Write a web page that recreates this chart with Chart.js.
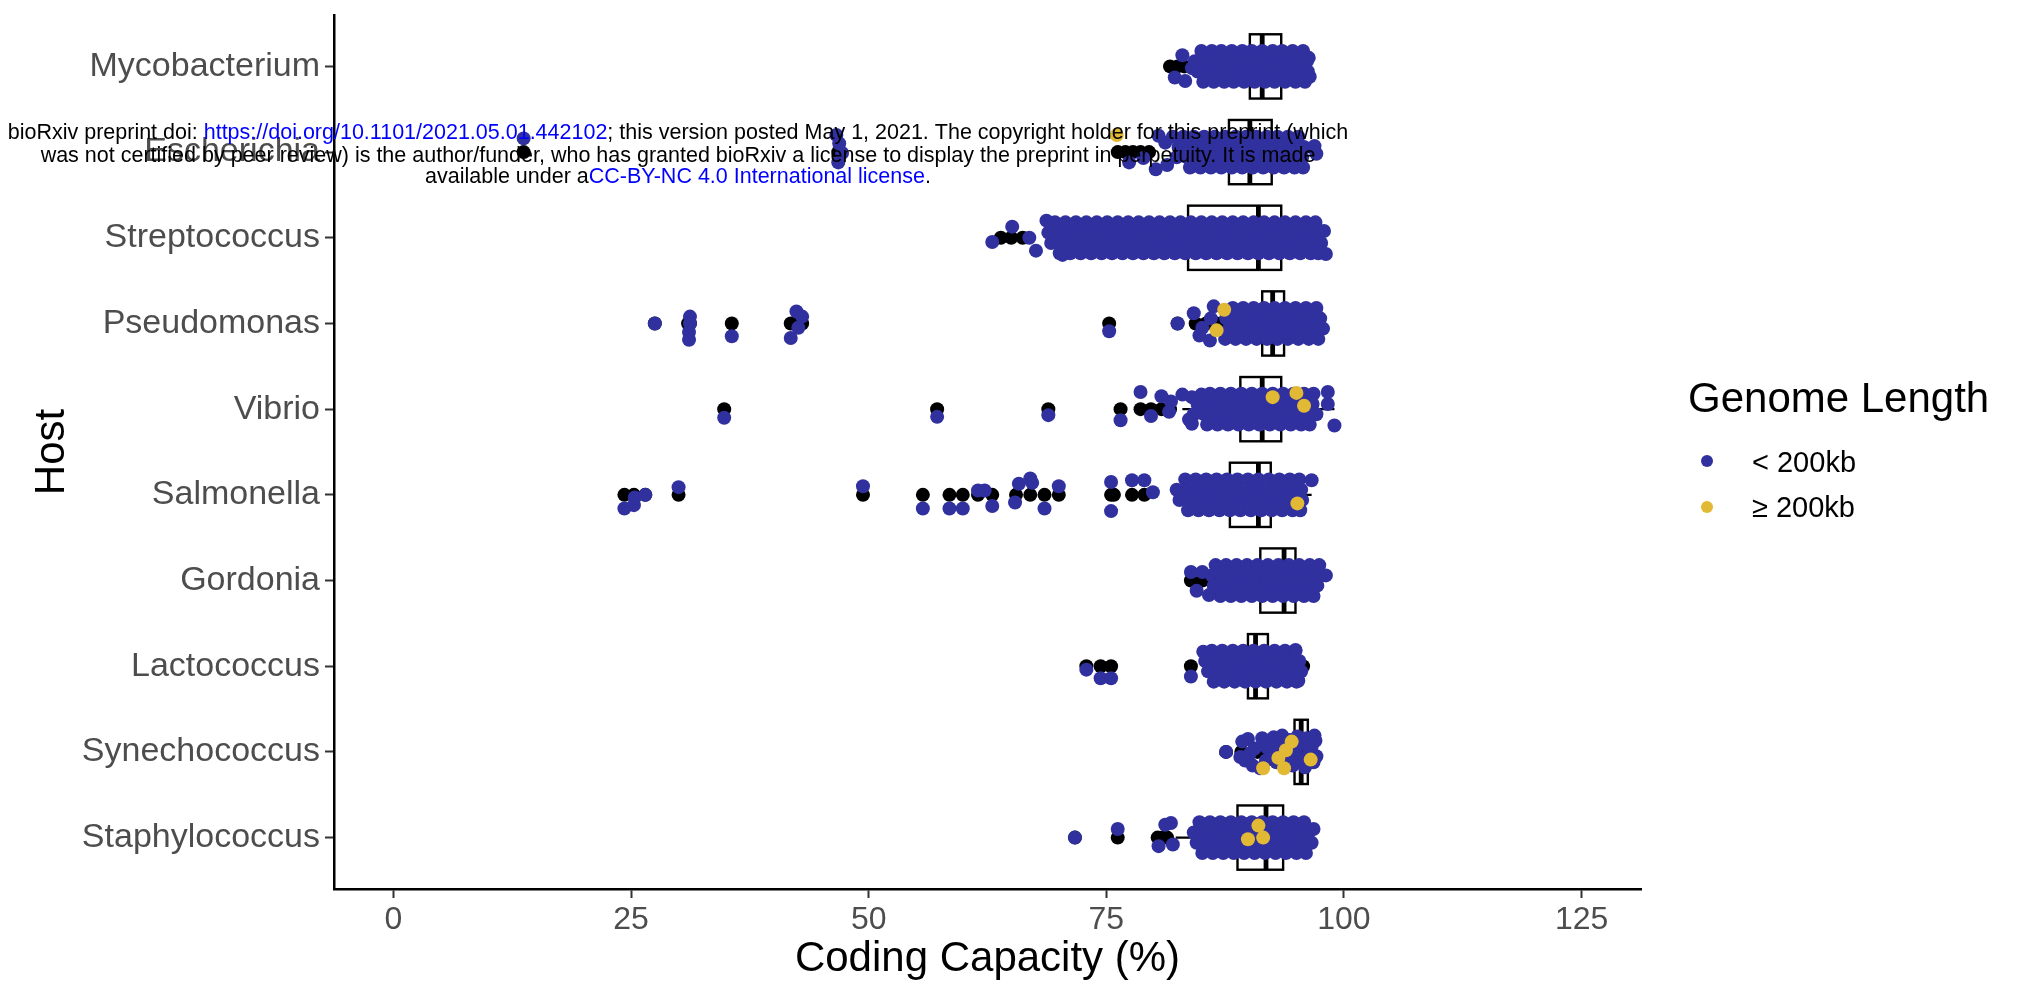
<!DOCTYPE html>
<html>
<head>
<meta charset="utf-8">
<script src="https://cdn.jsdelivr.net/npm/chart.js@4.4.1/dist/chart.umd.min.js"></script>
<style>
  body { margin: 0; background: #fff; }
  canvas { display: block; }
</style>
</head>
<body>
<canvas id="chart" width="2020" height="987"></canvas>
<script>
// Coding capacity per host, boxplot + jittered genomes

var hosts = ['Mycobacterium', 'Escherichia', 'Streptococcus', 'Pseudomonas', 'Vibrio',
             'Salmonella', 'Gordonia', 'Lactococcus', 'Synechococcus', 'Staphylococcus'];

// box stats (coding capacity %)
var whiskerLow  = [85.3, 82.0, 69.0, 88.0, 83.0, 83.5, 85.8, 86.8, 92.7, 82.3];
var boxQ1       = [90.1, 87.9, 83.6, 91.4, 89.1, 88.0, 91.2, 89.9, 94.8, 88.8];
var boxMedian   = [91.4, 90.1, 91.0, 92.5, 91.4, 91.0, 93.7, 90.7, 95.5, 91.8];
var boxQ3       = [93.4, 92.4, 93.4, 93.7, 93.4, 92.3, 94.9, 92.0, 96.2, 93.6];
var whiskerHigh = [96.6, 97.1, 97.9, 97.2, 99.0, 96.6, 98.1, 95.1, 97.2, 96.8];

// boxplot outliers (drawn at the host line)
var outliers = [
  [81.7, 82.5, 83.2, 84.1, 84.9],
  [13.7, 46.8, 76.2, 77.0, 77.8, 78.6, 79.5],
  [63.9, 65.0, 66.2],
  [27.5, 31.0, 31.2, 35.6, 41.8, 42.6, 43.0, 75.3, 82.5, 84.4, 85.5, 86.6, 87.3],
  [34.8, 57.2, 68.9, 76.5, 78.6, 79.7, 80.8, 81.7],
  [24.3, 25.3, 26.5, 30.0, 49.4, 55.7, 58.5, 59.9, 61.5, 63.0, 65.5, 67.0, 68.5, 70.0, 75.5, 75.8, 77.7, 79.0],
  [83.9, 85.1],
  [72.9, 74.4, 75.5, 83.9, 86.0, 95.7],
  [87.6, 89.2, 90.9, 91.5, 92.2],
  [71.7, 76.2, 80.4, 80.9, 81.4]
];

// jitter offsets of the dense rows (host units)
var jitterRows = [-0.18, -0.06, 0.06, 0.18];

// < 200kb genomes: dense part, one list of x per jitter row
var blueRows = [
  [[85.0, 86.1, 87.1, 88.2, 89.3, 90.3, 91.4, 92.5, 93.5, 94.6, 95.7],
   [84.3, 85.4, 86.5, 87.6, 88.7, 89.7, 90.8, 91.9, 93.0, 94.0, 95.1, 96.1],
   [84.6, 85.8, 86.9, 87.9, 89.0, 90.1, 91.2, 92.2, 93.3, 94.4, 95.4, 96.2],
   [85.2, 86.3, 87.4, 88.4, 89.5, 90.6, 91.7, 92.7, 93.8, 94.9, 95.9]],
  [[82.0, 83.1, 84.2, 85.3, 86.4, 87.5, 88.6, 89.7, 90.8, 91.9, 93.0, 94.1, 95.2],
   [82.6, 83.7, 84.8, 85.9, 87.0, 88.1, 89.2, 90.3, 91.4, 92.5, 93.6, 94.7, 95.8],
   [82.4, 83.5, 84.6, 85.7, 86.8, 87.9, 89.0, 90.1, 91.2, 92.3, 93.4, 94.5, 95.6],
   [83.8, 84.9, 86.0, 87.1, 88.2, 89.3, 90.4, 91.5, 92.6, 93.7, 94.8, 95.7]],
  [[69.6, 70.7, 71.8, 72.9, 74.0, 75.1, 76.2, 77.3, 78.4, 79.5, 80.6, 81.7, 82.8, 83.9, 85.0, 86.1, 87.2, 88.3, 89.4, 90.5, 91.6, 92.7, 93.8, 94.9, 96.0, 97.0],
   [68.9, 70.0, 71.1, 72.2, 73.3, 74.4, 75.5, 76.6, 77.7, 78.8, 79.9, 81.0, 82.1, 83.2, 84.3, 85.4, 86.5, 87.6, 88.7, 89.8, 90.9, 92.0, 93.1, 94.2, 95.3, 96.4, 97.4],
   [69.2, 70.3, 71.4, 72.5, 73.6, 74.7, 75.8, 76.9, 78.0, 79.1, 80.2, 81.3, 82.4, 83.5, 84.6, 85.7, 86.8, 87.9, 89.0, 90.1, 91.2, 92.3, 93.4, 94.5, 95.6, 96.7, 97.6],
   [70.1, 71.2, 72.3, 73.4, 74.5, 75.6, 76.7, 77.8, 78.9, 80.0, 81.1, 82.2, 83.3, 84.4, 85.5, 86.6, 87.7, 88.8, 89.9, 91.0, 92.1, 93.2, 94.3, 95.4, 96.5, 97.3]],
  [[88.3, 89.4, 90.5, 91.6, 92.7, 93.8, 94.9, 96.0, 97.1],
   [86.0, 87.6, 88.7, 89.8, 90.9, 92.0, 93.1, 94.2, 95.3, 96.4, 97.5],
   [87.9, 89.0, 90.1, 91.2, 92.3, 93.4, 94.5, 95.6, 96.7, 97.8],
   [87.5, 88.6, 89.7, 90.8, 91.9, 93.0, 94.1, 95.2, 96.3, 97.3]],
  [[85.9, 87.0, 88.1, 89.2, 90.3, 91.4, 92.5, 93.6, 94.7, 95.8, 96.8],
   [84.6, 85.7, 86.8, 87.9, 89.0, 90.1, 91.2, 92.3, 93.4, 94.5, 95.6, 96.7],
   [84.2, 85.3, 86.4, 87.5, 88.6, 89.7, 90.8, 91.9, 93.0, 94.1, 95.2, 96.3, 97.1],
   [85.6, 86.7, 87.8, 88.9, 90.0, 91.1, 92.2, 93.3, 94.4, 95.5, 96.4]],
  [[83.3, 84.4, 85.5, 86.6, 87.7, 88.8, 89.9, 91.0, 92.1, 93.2, 94.3, 95.3],
   [82.4, 83.5, 84.6, 85.7, 86.8, 87.9, 89.0, 90.1, 91.2, 92.3, 93.4, 94.5, 95.5],
   [82.7, 83.8, 84.9, 86.0, 87.1, 88.2, 89.3, 90.4, 91.5, 92.6, 93.7, 94.8, 95.6],
   [83.6, 84.7, 85.8, 86.9, 88.0, 89.1, 90.2, 91.3, 92.4, 93.5, 94.6, 95.4]],
  [[86.5, 87.6, 88.7, 89.8, 90.9, 92.0, 93.1, 94.2, 95.3, 96.4, 97.4],
   [86.1, 87.2, 88.3, 89.4, 90.5, 91.6, 92.7, 93.8, 94.9, 96.0, 97.1, 98.1],
   [86.3, 87.4, 88.5, 89.6, 90.7, 91.8, 92.9, 94.0, 95.1, 96.2, 97.2],
   [87.0, 88.1, 89.2, 90.3, 91.4, 92.5, 93.6, 94.7, 95.8, 96.8]],
  [[86.1, 87.2, 88.3, 89.4, 90.5, 91.6, 92.7, 93.8, 94.9],
   [85.4, 86.5, 87.6, 88.7, 89.8, 90.9, 92.0, 93.1, 94.2, 95.3],
   [85.7, 86.8, 87.9, 89.0, 90.1, 91.2, 92.3, 93.4, 94.5, 95.5],
   [86.3, 87.4, 88.5, 89.6, 90.7, 91.8, 92.9, 94.0, 95.0]],
  [[], [], [], []],
  [[84.8, 85.9, 87.0, 88.1, 89.2, 90.3, 91.4, 92.5, 93.6, 94.7, 95.8],
   [84.2, 85.3, 86.4, 87.5, 88.6, 89.7, 90.8, 91.9, 93.0, 94.1, 95.2, 96.3],
   [84.5, 85.6, 86.7, 87.8, 88.9, 90.0, 91.1, 92.2, 93.3, 94.4, 95.5, 96.6],
   [85.1, 86.2, 87.3, 88.4, 89.5, 90.6, 91.7, 92.8, 93.9, 95.0, 96.0]]
];

// < 200kb genomes outside the dense rows: [coding %, jitter]
var blueExtra = [
  [[83.0, -0.13], [82.2, 0.13], [83.3, 0.17], [84.0, 0.02], [96.3, -0.1], [96.4, 0.12]],
  [[80.5, -0.19], [81.2, -0.11], [77.4, 0.12], [78.9, 0.07], [80.2, 0.2], [81.4, 0.15], [96.9, -0.07], [97.1, 0.02],
   [13.7, -0.16], [46.6, -0.2], [46.9, -0.1], [47.2, 0.01], [46.8, 0.12]],
  [[63.0, 0.05], [65.1, -0.13], [66.9, 0.0], [68.7, -0.2], [67.6, 0.15], [70.4, 0.2], [98.1, 0.19], [97.9, -0.08]],
  [[27.5, 0.0], [31.2, -0.08], [31.2, 0.0], [31.1, 0.1], [31.1, 0.19], [35.6, 0.15], [42.4, -0.14], [43.0, -0.08],
   [42.6, 0.05], [41.8, 0.17], [75.3, 0.09], [82.5, 0.0], [84.2, -0.12], [84.8, 0.14], [85.9, 0.2], [86.3, -0.2], [85.1, 0.05]],
  [[34.8, 0.1], [57.2, 0.09], [68.9, 0.07], [76.5, 0.13], [78.6, -0.2], [79.7, 0.08], [80.8, -0.15], [81.8, -0.09],
   [83.0, -0.17], [84.0, -0.14], [85.0, -0.17], [81.6, 0.03], [83.7, 0.12], [84.0, 0.17], [98.3, -0.2], [98.3, -0.06], [99.0, 0.19]],
  [[24.3, 0.16], [25.3, 0.12], [25.4, 0.03], [26.5, 0.0], [30.0, -0.09], [49.4, -0.1], [55.7, 0.16], [58.5, 0.16],
   [59.9, 0.16], [61.5, -0.05], [62.2, -0.05], [63.0, 0.13], [65.4, 0.09], [65.8, -0.13], [67.0, -0.19], [67.2, -0.14],
   [68.5, 0.16], [70.0, -0.1], [75.5, -0.15], [75.5, 0.19], [77.7, -0.17], [79.0, -0.17], [79.9, -0.03], [96.6, -0.17]],
  [[83.9, -0.1], [85.1, -0.1], [84.5, 0.12], [85.8, 0.17]],
  [[72.9, 0.04], [74.4, 0.14], [75.5, 0.14], [83.9, 0.12], [85.2, -0.17], [95.2, 0.17], [94.9, -0.19]],
  [[87.6, 0.0], [89.3, -0.12], [89.1, 0.06], [89.9, -0.15], [90.1, 0.02], [89.6, 0.1], [90.6, -0.04], [91.4, -0.16],
   [91.8, 0.1], [91.9, -0.05], [92.6, -0.17], [92.4, 0.04], [92.9, 0.12], [93.2, -0.08], [93.5, -0.19], [93.9, 0.11],
   [94.3, -0.14], [94.6, 0.16], [94.9, -0.02], [95.1, -0.18], [95.3, 0.08], [95.6, -0.1], [95.9, 0.18], [96.1, -0.16],
   [96.3, 0.02], [96.6, -0.06], [96.8, 0.12], [97.0, -0.13], [97.1, 0.05], [96.9, -0.19], [95.8, 0.13], [94.1, 0.03],
   [91.2, 0.19], [90.4, 0.16]],
  [[71.7, 0.0], [76.2, -0.1], [81.2, -0.15], [81.8, -0.17], [80.5, 0.1], [82.0, 0.08], [96.8, -0.1]]
];

// >= 200kb genomes: [coding %, jitter]
var yellowPts = [
  [],
  [[76.1, -0.2]],
  [],
  [[87.4, -0.16], [86.6, 0.08]],
  [[92.5, -0.14], [95.0, -0.19], [95.8, -0.04]],
  [[95.1, 0.1]],
  [],
  [],
  [[94.5, -0.12], [93.9, -0.02], [93.1, 0.07], [93.7, 0.19], [91.5, 0.19], [96.5, 0.09]],
  [[91.0, -0.14], [89.9, 0.02], [91.5, 0.0]]
];

var blue = '#30309f';
var yellow = '#e2b934';
var axisGrey = '#4d4d4d';
var fontFamily = '"Liberation Sans", Arial, Helvetica, sans-serif';
var dotRadius = 7;

// build point lists
var bluePoints = [];
var yellowPoints = [];
var outlierPoints = [];
hosts.forEach(function(h, i) {
    blueRows[i].forEach(function(row, r) {
        row.forEach(function(v) {
            bluePoints.push({x: v, y: i + jitterRows[r]});
        });
    });
    blueExtra[i].forEach(function(p) {
        bluePoints.push({x: p[0], y: i + p[1]});
    });
    yellowPts[i].forEach(function(p) {
        yellowPoints.push({x: p[0], y: i + p[1]});
    });
    outliers[i].forEach(function(v) {
        outlierPoints.push({x: v, y: i});
    });
});

// boxes + whiskers, drawn under the points
var boxPlugin = {
    id: 'boxes',
    beforeDatasetsDraw: function(chart) {
        var ctx = chart.ctx;
        var xs = chart.scales.x, ys = chart.scales.y;
        ctx.save();
        ctx.strokeStyle = '#000';
        hosts.forEach(function(h, i) {
            var yc = ys.getPixelForValue(i);
            var yt = ys.getPixelForValue(i - 0.375);
            var yb = ys.getPixelForValue(i + 0.375);
            var x1 = xs.getPixelForValue(boxQ1[i]);
            var x3 = xs.getPixelForValue(boxQ3[i]);
            ctx.lineWidth = 2.4;
            ctx.beginPath();
            ctx.moveTo(xs.getPixelForValue(whiskerLow[i]), yc);
            ctx.lineTo(x1, yc);
            ctx.moveTo(x3, yc);
            ctx.lineTo(xs.getPixelForValue(whiskerHigh[i]), yc);
            ctx.stroke();
            ctx.fillStyle = '#fff';
            ctx.fillRect(x1, Math.min(yt, yb), x3 - x1, Math.abs(yb - yt));
            ctx.strokeRect(x1, Math.min(yt, yb), x3 - x1, Math.abs(yb - yt));
            ctx.lineWidth = 4.8;
            var xm = xs.getPixelForValue(boxMedian[i]);
            ctx.beginPath();
            ctx.moveTo(xm, yt);
            ctx.lineTo(xm, yb);
            ctx.stroke();
        });
        ctx.restore();
    }
};

// legend on the right + preprint stamp on top
var overlayPlugin = {
    id: 'overlay',
    afterDraw: function(chart) {
        var ctx = chart.ctx;
        ctx.save();
        ctx.fillStyle = '#000';
        ctx.textAlign = 'left';
        ctx.textBaseline = 'alphabetic';
        ctx.font = '42px ' + fontFamily;
        ctx.fillText('Genome Length', 1688, 412);
        var items = [['< 200kb', blue, 461, 472], ['\u2265 200kb', yellow, 507, 517]];
        ctx.font = '29px ' + fontFamily;
        items.forEach(function(it) {
            ctx.fillStyle = it[1];
            ctx.beginPath();
            ctx.arc(1707, it[2], 6, 0, Math.PI * 2);
            ctx.fill();
            ctx.fillStyle = '#000';
            ctx.fillText(it[0], 1752, it[3]);
        });

        // bioRxiv stamp
        var lines = [
            [['bioRxiv preprint doi: ', '#000'], ['https://doi.org/10.1101/2021.05.01.442102', '#0000ff'],
             ['; this version posted May 1, 2021. The copyright holder for this preprint (which', '#000']],
            [['was not certified by peer review) is the author/funder, who has granted bioRxiv a license to display the preprint in perpetuity. It is made', '#000']],
            [['available under a', '#000'], ['CC-BY-NC 4.0 International license', '#0000ff'], ['.', '#000']]
        ];
        var lineY = [133, 156, 177];
        ctx.font = '21.5px ' + fontFamily;
        ctx.textBaseline = 'middle';
        lines.forEach(function(parts, k) {
            var total = 0;
            parts.forEach(function(p) { total += ctx.measureText(p[0]).width; });
            var xpos = 678 - total / 2;
            parts.forEach(function(p) {
                ctx.fillStyle = p[1];
                ctx.fillText(p[0], xpos, lineY[k]);
                xpos += ctx.measureText(p[0]).width;
            });
        });
        ctx.restore();
    }
};

var ctx = document.getElementById('chart');

var myChart = new Chart(ctx, {
    type: 'scatter',
    data: {
        datasets: [
            {
                label: '>= 200kb',
                data: yellowPoints,
                backgroundColor: yellow,
                borderWidth: 0,
                pointRadius: dotRadius,
                order: 1
            },
            {
                label: '< 200kb',
                data: bluePoints,
                backgroundColor: blue,
                borderWidth: 0,
                pointRadius: dotRadius,
                order: 2
            },
            {
                label: 'outliers',
                data: outlierPoints,
                backgroundColor: '#000',
                borderWidth: 0,
                pointRadius: dotRadius,
                order: 3
            }
        ]
    },
    options: {
        responsive: false,
        devicePixelRatio: 1,
        animation: false,
        events: [],
        layout: { padding: { left: 0, right: 379, top: 15, bottom: 0 } },
        plugins: {
            legend: { display: false },
            tooltip: { enabled: false }
        },
        scales: {
            x: {
                type: 'linear',
                min: -6.25,
                max: 131.25,
                afterFit: function(scale) {
                    scale.height = 98;
                    scale.paddingLeft = 0;
                    scale.paddingRight = 0;
                },
                ticks: {
                    stepSize: 25,
                    includeBounds: false,
                    autoSkip: false,
                    maxRotation: 0,
                    padding: 3,
                    color: axisGrey,
                    font: { family: fontFamily, size: 32 }
                },
                grid: { drawOnChartArea: false, drawTicks: true, tickLength: 9, tickColor: '#333', tickWidth: 2 },
                border: { display: true, color: '#000', width: 2.5 },
                title: {
                    display: true,
                    text: 'Coding Capacity (%)',
                    color: '#000',
                    padding: { top: 0, bottom: 2 },
                    font: { family: fontFamily, size: 42 }
                }
            },
            y: {
                type: 'linear',
                reverse: true,
                min: -0.6,
                max: 9.6,
                afterFit: function(scale) {
                    scale.width = 334;
                    scale.paddingTop = 0;
                    scale.paddingBottom = 0;
                },
                ticks: {
                    stepSize: 1,
                    includeBounds: false,
                    autoSkip: false,
                    padding: 5,
                    color: axisGrey,
                    font: { family: fontFamily, size: 34 },
                    callback: function(v) { return hosts[v]; }
                },
                grid: { drawOnChartArea: false, drawTicks: true, tickLength: 9, tickColor: '#333', tickWidth: 2 },
                border: { display: true, color: '#000', width: 2.5 },
                title: {
                    display: true,
                    text: 'Host',
                    color: '#000',
                    padding: { top: 27, bottom: 0 },
                    font: { family: fontFamily, size: 42 }
                }
            }
        }
    },
    plugins: [boxPlugin, overlayPlugin]
});
</script>
</body>
</html>
